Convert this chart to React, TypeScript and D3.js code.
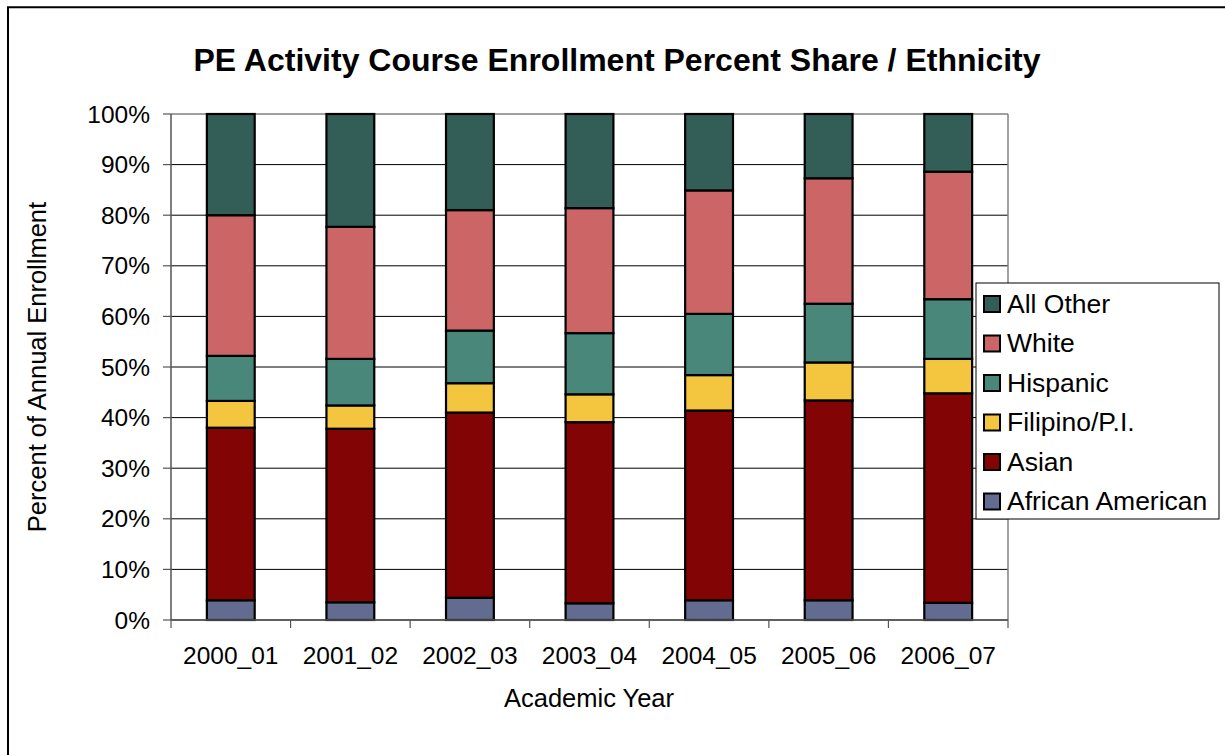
import React from "react";
import * as d3 from "d3";

const categories = ["2000_01", "2001_02", "2002_03", "2003_04", "2004_05", "2005_06", "2006_07"];
const seriesNames = ["African American", "Asian", "Filipino/P.I.", "Hispanic", "White", "All Other"];
const africanAmerican = [3.9, 3.5, 4.4, 3.3, 3.9, 3.9, 3.4];
const asian = [34.1, 34.3, 36.6, 35.8, 37.5, 39.5, 41.4];
const filipino = [5.3, 4.6, 5.8, 5.5, 7.0, 7.5, 6.8];
const hispanic = [8.9, 9.2, 10.4, 12.1, 12.1, 11.6, 11.8];
const white = [27.8, 26.1, 23.8, 24.7, 24.4, 24.8, 25.2];
const allOther = [20.0, 22.3, 19.0, 18.6, 15.1, 12.7, 11.4];
const colors = ["#626C90", "#830404", "#F4C640", "#48877A", "#CC6666", "#335E58"];
const yTicks = [0, 10, 20, 30, 40, 50, 60, 70, 80, 90, 100];

const W = 1225;
const H = 755;
const plot = { left: 171, right: 1008, top: 114, bottom: 620 };
const font = "'Liberation Sans', Arial, sans-serif";

export default function App() {
  const values = [africanAmerican, asian, filipino, hispanic, white, allOther];
  const rows = categories.map((c, i) => {
    const r: any = { cat: c };
    seriesNames.forEach((s, k) => (r[s] = values[k][i]));
    return r;
  });
  const stack = d3.stack<any>().keys(seriesNames)(rows);

  const x = d3
    .scaleBand()
    .domain(categories)
    .range([plot.left, plot.right])
    .paddingInner(0.6)
    .paddingOuter(0.3);
  const step = x.step();
  const y = d3.scaleLinear().domain([0, 100]).range([plot.bottom, plot.top]);

  const legendX = 976;
  const legendY = 283;
  const legendW = 243;
  const legendH = 236;
  const rowGap = 39.5;
  const legendOrder = [...seriesNames].reverse();

  return (
    <svg
      width={W}
      height={H}
      style={{ position: "absolute", left: 0, top: 0, display: "block" }}
      fontFamily={font}
    >
      <rect x={0} y={0} width={W} height={H} fill="#fff" />
      <path d="M8,800 V7.3 H1240" fill="none" stroke="#000" strokeWidth={2} />

      <text x={617} y={71} textAnchor="middle" fontSize={32} fontWeight="bold" fill="#000">
        PE Activity Course Enrollment Percent Share / Ethnicity
      </text>

      {/* gridlines */}
      {yTicks.map((t) => (
        <line
          key={"g" + t}
          x1={plot.left}
          x2={plot.right}
          y1={y(t)}
          y2={y(t)}
          stroke={t === 100 ? "#808080" : "#000"}
          strokeWidth={t === 100 ? 1.5 : 1}
        />
      ))}
      <line x1={plot.right} x2={plot.right} y1={plot.top} y2={plot.bottom} stroke="#808080" strokeWidth={1.5} />

      {/* bars */}
      {stack.map((layer, k) => (
        <g key={layer.key} fill={colors[k]}>
          {layer.map((d, i) => (
            <rect
              key={i}
              x={x(categories[i])!}
              width={x.bandwidth()}
              y={y(d[1])}
              height={y(d[0]) - y(d[1])}
              stroke="#000"
              strokeWidth={2.2}
            />
          ))}
        </g>
      ))}

      {/* axes */}
      <line x1={plot.left} x2={plot.left} y1={plot.top} y2={plot.bottom} stroke="#555" strokeWidth={1.5} />
      <line x1={plot.left} x2={plot.right} y1={plot.bottom} y2={plot.bottom} stroke="#555" strokeWidth={1.5} />
      {yTicks.map((t) => (
        <g key={"yt" + t}>
          <line x1={plot.left - 8} x2={plot.left} y1={y(t)} y2={y(t)} stroke="#555" strokeWidth={1.2} />
          <text x={150} y={y(t) + 8.5} textAnchor="end" fontSize={24.5} fill="#000">
            {t + "%"}
          </text>
        </g>
      ))}
      {d3.range(categories.length + 1).map((i) => (
        <line
          key={"xt" + i}
          x1={plot.left + i * step}
          x2={plot.left + i * step}
          y1={plot.bottom}
          y2={plot.bottom + 8}
          stroke="#555"
          strokeWidth={1.2}
        />
      ))}
      {categories.map((c) => (
        <text key={c} x={x(c)! + x.bandwidth() / 2} y={664} textAnchor="middle" fontSize={24.5} fill="#000">
          {c}
        </text>
      ))}

      <text x={589} y={706.5} textAnchor="middle" fontSize={25.5} fill="#000">
        Academic Year
      </text>
      <text transform="translate(46,367) rotate(-90)" textAnchor="middle" fontSize={25.5} fill="#000">
        Percent of Annual Enrollment
      </text>

      {/* legend */}
      <rect x={legendX} y={legendY} width={legendW} height={legendH} fill="#fff" stroke="#000" strokeWidth={1} />
      {legendOrder.map((s, i) => {
        const cy = 304 + i * rowGap;
        const k = seriesNames.indexOf(s);
        return (
          <g key={s}>
            <rect x={984} y={cy - 8} width={16} height={16} fill={colors[k]} stroke="#000" strokeWidth={2} />
            <text x={1007} y={cy + 8.5} fontSize={26.5} fill="#000">
              {s}
            </text>
          </g>
        );
      })}
    </svg>
  );
}
